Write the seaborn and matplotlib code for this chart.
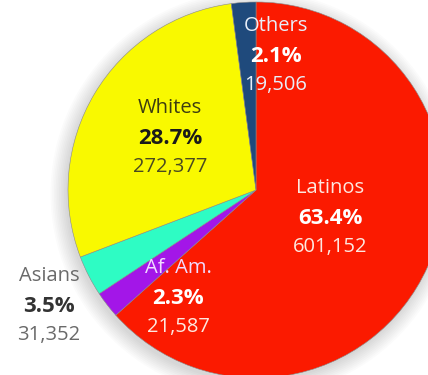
import matplotlib
matplotlib.use("Agg")
import matplotlib.pyplot as plt
import seaborn as sns
from matplotlib.patches import Circle

groups = ["Latinos", "Af. Am.", "Asians", "Whites", "Others"]
shares = [63.4, 2.3, 3.5, 28.7, 2.1]
counts = ["601,152", "21,587", "31,352", "272,377", "19,506"]
colors = ["#fb1a00", "#a316e8", "#2efcc4", "#f9f900", "#1f4a7c"]

sns.set_theme(style="white")
plt.rcParams['font.family'] = ['Open Sans', 'DejaVu Sans']

W, H = 428, 375
cx, cy, R = 256, 190, 188

fig = plt.figure(figsize=(W / 100, H / 100), dpi=100)
ax = fig.add_axes([0, 0, 1, 1])
ax.axis("off")

# soft shadow round the pie
for i in range(10):
    ax.add_patch(Circle((-0.012, -0.02), 1.0 + 0.009 * i, color="black",
                        alpha=0.014, lw=0, zorder=0))

ax.pie(shares, colors=colors, startangle=90, counterclock=False, radius=1.0,
       wedgeprops=dict(linewidth=0.4, edgecolor="#8a8a8a"))
ax.set_aspect("equal")
ax.set_xlim(-cx / R, (W - cx) / R)
ax.set_ylim(-(H - cy) / R, cy / R)


def px(x, y):
    return (x - cx) / R, (cy - y) / R


# label positions in pixels, and text colours (name, pct, count)
label_pos = {
    "Latinos": (330, 188),
    "Af. Am.": (178, 268),
    "Asians": (49, 276),
    "Whites": (170, 108),
    "Others": (276, 26),
}
label_col = {
    "Latinos": ("#fde8e0", "white", "#fde8e0"),
    "Af. Am.": ("#f0dcff", "white", "#fde8e0"),
    "Asians": ("#6a6a6a", "#333333", "#6a6a6a"),
    "Whites": ("#3c3c10", "#1a1a1a", "#4a4a20"),
    "Others": ("#e8eef8", "white", "#e8eef8"),
}

for g, s, c in zip(groups, shares, counts):
    x, y = label_pos[g]
    c1, c2, c3 = label_col[g]
    ax.text(*px(x, y), g, color=c1, fontsize=14.5, ha="center", va="center")
    ax.text(*px(x, y + 30), f"{s}%", color=c2, fontsize=16, fontweight="bold",
            ha="center", va="center")
    ax.text(*px(x, y + 59), c, color=c3, fontsize=14.5, ha="center", va="center")

fig.savefig("out.png", dpi=100)
